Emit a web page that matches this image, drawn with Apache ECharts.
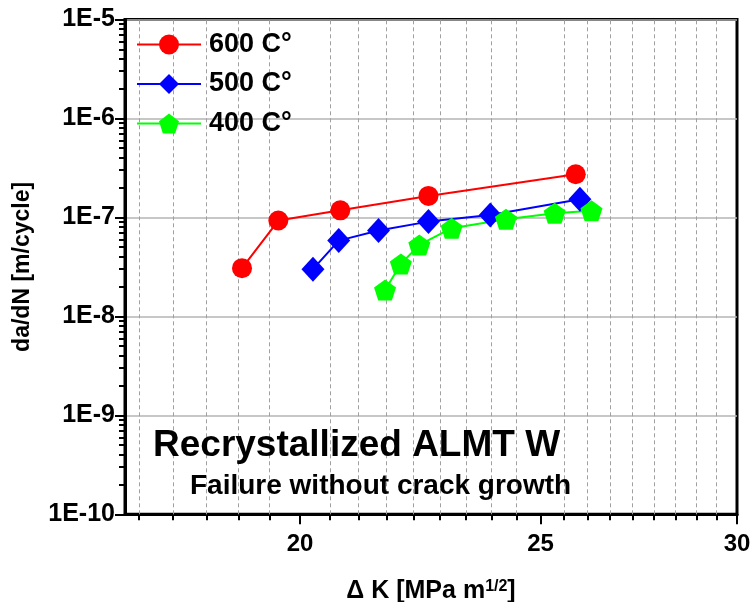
<!DOCTYPE html>
<html>
<head>
<meta charset="utf-8">
<script src="https://cdn.jsdelivr.net/npm/echarts@6/dist/echarts.min.js"></script>
<style>
  html, body { margin: 0; padding: 0; background: #fff; }
  #chart { width: 754px; height: 602px; }
</style>
</head>
<body>
<div id="chart"></div>
<script>
// ΔK [MPa m^1/2] and da/dN [m/cycle]
const dk600 = [18.95, 19.60, 20.76, 22.53, 25.83];
const rate600 = [3.07e-8, 9.3e-8, 1.18e-7, 1.65e-7, 2.73e-7];
const dk500 = [20.24, 20.73, 21.51, 22.53, 23.86, 25.93];
const rate500 = [3.0e-8, 5.83e-8, 7.36e-8, 9.07e-8, 1.06e-7, 1.53e-7];
const dk400 = [21.64, 21.96, 22.34, 23.02, 24.21, 25.33, 26.21];
const rate400 = [1.85e-8, 3.39e-8, 5.27e-8, 7.78e-8, 9.59e-8, 1.10e-7, 1.17e-7];

const seriesNames = ['600 C°', '500 C°', '400 C°'];
const xMajorTicks = [20, 25, 30];
const titleText = 'Recrystallized ALMT W';
const subtitleText = 'Failure without crack growth';

// minor ticks: 8 between each pair of majors (step 5/9)
const xMinorTicks = [];
for (let base = 15; base < 30; base += 5) {
  for (let k = 1; k <= 8; k++) {
    const v = base + k * 5 / 9;
    if (v > 17 && v < 30) xMinorTicks.push(v);
  }
}
// log minor ticks 2..9 per decade
const yMinorTicks = [];
for (let e = -10; e < -5; e++) {
  for (let m = 2; m <= 9; m++) yMinorTicks.push(m * Math.pow(10, e));
}

const FONT = '"Liberation Sans", Arial, sans-serif';
const pentagon = 'path://M50,0 L97.55,34.55 L79.39,90.45 L20.61,90.45 L2.45,34.55 Z';

const chart = echarts.init(document.getElementById('chart'));

const makeSeries = (name, xs, ys, color, symbol, size) => ({
  name,
  type: 'line',
  xAxisIndex: 0,
  yAxisIndex: 0,
  data: xs.map((x, i) => [x, ys[i]]),
  symbol,
  symbolSize: size,
  lineStyle: { color, width: 2 },
  itemStyle: { color },
  emphasis: { disabled: true },
  z: 3,
});

const series = [
  makeSeries(seriesNames[0], dk600, rate600, '#ff0000', 'circle', 20),
  makeSeries(seriesNames[1], dk500, rate500, '#0000ff', 'diamond', [23, 25]),
  makeSeries(seriesNames[2], dk400, rate400, '#00ff00', pentagon, [22, 21]),
];
// dashed vertical grid at the minor x ticks
series[0].markLine = {
  silent: true,
  z: 1,
  symbol: ['none', 'none'],
  label: { show: false },
  emphasis: { disabled: true },
  lineStyle: { color: '#a0a0a0', width: 1, type: [4, 3] },
  data: xMinorTicks.map((v) => ({ xAxis: v })),
};

const option = {
  animation: false,
  backgroundColor: '#fff',
  grid: {
    left: 125,
    right: 17,
    top: 19.5,
    bottom: 87.7,
    show: true,
    borderColor: '#000',
    borderWidth: 3,
    backgroundColor: 'transparent',
    outerBoundsMode: 'none',
  },
  legend: {
    orient: 'vertical',
    left: 131,
    top: 26,
    itemWidth: 64,
    itemHeight: 25,
    itemGap: 12.5,
    selectedMode: false,
    data: seriesNames,
    textStyle: {
      fontFamily: FONT,
      fontWeight: 'bold',
      fontSize: 27,
      color: '#000',
      padding: [0, 0, 0, 3],
    },
  },
  xAxis: [
    {
      type: 'log',
      logBase: 10,
      min: 17,
      max: 30,
      position: 'bottom',
      name: '{a|Δ K [MPa m}{s|1/2}{a|]}',
      nameLocation: 'middle',
      nameGap: 64,
      nameTextStyle: {
        rich: {
          a: { fontFamily: FONT, fontWeight: 'bold', fontSize: 25, color: '#000' },
          s: { fontFamily: FONT, fontWeight: 'bold', fontSize: 16, color: '#000', verticalAlign: 'top' },
        },
      },
      axisLine: { show: true, onZero: false, lineStyle: { color: '#000', width: 3 } },
      axisTick: { show: true, inside: false, length: 10, customValues: xMajorTicks, lineStyle: { color: '#000', width: 2 } },
      axisLabel: {
        customValues: xMajorTicks,
        margin: 18,
        color: '#000',
        fontFamily: FONT,
        fontWeight: 'bold',
        fontSize: 24,
        formatter: (v) => String(Math.round(v)),
      },
      splitLine: { show: false },
      minorTick: { show: false },
      minorSplitLine: { show: false },
    },
    {
      // short outward minor ticks
      type: 'log',
      logBase: 10,
      min: 17,
      max: 30,
      position: 'bottom',
      axisLine: { show: false },
      axisTick: { show: true, inside: false, length: 6, customValues: xMinorTicks, lineStyle: { color: '#000', width: 2 } },
      axisLabel: { show: false },
      splitLine: { show: false },
    },
  ],
  yAxis: [
    {
      type: 'log',
      logBase: 10,
      min: 1e-10,
      max: 1e-5,
      position: 'left',
      name: 'da/dN [m/cycle]',
      nameLocation: 'middle',
      nameGap: 91,
      nameRotate: 90,
      nameTextStyle: { fontFamily: FONT, fontWeight: 'bold', fontSize: 23, color: '#000' },
      axisLine: { show: true, onZero: false, lineStyle: { color: '#000', width: 3 } },
      axisTick: { show: true, inside: false, length: 10, lineStyle: { color: '#000', width: 2 } },
      axisLabel: {
        margin: 10,
        color: '#000',
        fontFamily: FONT,
        fontWeight: 'bold',
        fontSize: 25,
        formatter: (v) => '1E' + Math.round(Math.log10(v)),
      },
      splitLine: { show: true, lineStyle: { color: '#b4b4b4', width: 1.5 } },
      minorTick: { show: false },
    },
    {
      type: 'log',
      logBase: 10,
      min: 1e-10,
      max: 1e-5,
      position: 'left',
      axisLine: { show: false },
      axisTick: { show: true, inside: false, length: 6, customValues: yMinorTicks, lineStyle: { color: '#000', width: 2 } },
      axisLabel: { show: false },
      splitLine: { show: false },
    },
  ],
  graphic: [
    {
      type: 'text',
      x: 153,
      y: 445.5,
      z: 100,
      style: { text: titleText, font: 'bold 37px ' + FONT, fill: '#000', verticalAlign: 'middle' },
    },
    {
      type: 'text',
      x: 190,
      y: 486,
      z: 100,
      style: { text: subtitleText, font: 'bold 28px ' + FONT, fill: '#000', verticalAlign: 'middle' },
    },
  ],
  series,
};

chart.setOption(option);
</script>
</body>
</html>
